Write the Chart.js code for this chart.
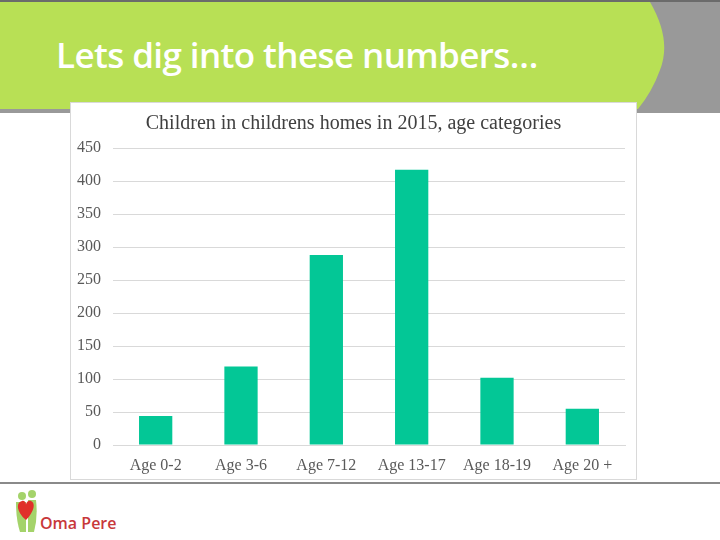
<!DOCTYPE html>
<html>
<head>
  <title>Lets dig into these numbers</title>
  <script src="https://cdn.jsdelivr.net/npm/chart.js"></script>
  <style>
    html, body { margin: 0; padding: 0; }
    body { width: 720px; height: 540px; position: relative; overflow: hidden; background: #fff; }
    #bg { position: absolute; left: 0; top: 0; }
    #slide-title {
      position: absolute; left: 56px; top: 31px;
      font-family: "Open Sans", Lato, sans-serif; font-weight: 600;
      font-size: 35px; color: #fff; letter-spacing: -0.6px;
    }
    #chart-box {
      position: absolute; left: 70px; top: 102px; width: 567px; height: 378px;
      background: #fff; box-sizing: border-box; border: 1px solid #d9d9d9;
    }
    #logo-text {
      position: absolute; left: 40px; top: 512px;
      font-family: "Open Sans", sans-serif; font-weight: 600; font-size: 16px; color: #c8383a;
    }
  </style>
</head>
<body>
  <svg id="bg" width="720" height="540">
    <rect x="0" y="0" width="720" height="113" fill="#999999"/>
    <path d="M0,2 L650,2 Q672,40 660,70 Q652,92 638,109 L0,109 Z" fill="#b8e055"/>
    <rect x="0" y="0" width="720" height="2" fill="#6b6b6b"/>
    <rect x="0" y="482" width="720" height="2" fill="#8a8a8a"/>
    <!-- logo figures -->
    <circle cx="22" cy="496" r="4" fill="#a4d36a"/>
    <circle cx="32" cy="494" r="4" fill="#a4d36a"/>
    <path d="M16,502 L26,502 L26,532 L20,532 Q16,520 16,502 Z" fill="#a4d36a"/>
    <path d="M28,500 L36,500 Q38,518 34,532 L28,532 Z" fill="#a4d36a"/>
    <path d="M26,520 C16,512 16,502 22,501 C25,500 26,503 26,505 C26,503 28,500 31,501 C36,503 34,512 26,520 Z" fill="#e0302a"/>
  </svg>
  <div id="slide-title">Lets dig into these numbers…</div>
  <div id="chart-box"><canvas id="myChart" width="565" height="376"></canvas></div>
  <div id="logo-text">Oma Pere</div>
  <script>
    const categories = ['Age 0-2', 'Age 3-6', 'Age 7-12', 'Age 13-17', 'Age 18-19', 'Age 20 +'];
    const children = [44, 119, 288, 417, 102, 55];
    const yMax = 450;
    const yStep = 50;

    const serif = '"Liberation Serif", "Times New Roman", serif';
    const ctx = document.getElementById('myChart').getContext('2d');
    new Chart(ctx, {
      type: 'bar',
      data: {
        labels: categories,
        datasets: [{
          label: 'Children',
          data: children,
          backgroundColor: '#03c796',
          barPercentage: 0.39,
          categoryPercentage: 1
        }]
      },
      options: {
        responsive: false,
        animation: false,
        layout: { padding: 0 },
        scales: {
          x: {
            grid: { display: false, drawTicks: false },
            border: { color: '#d9d9d9' },
            ticks: { color: '#595959', font: { family: serif, size: 16 }, padding: 11 },
            afterFit: (scale) => { scale.height = 34; }
          },
          y: {
            min: 0,
            max: yMax,
            ticks: { stepSize: yStep, color: '#595959', font: { family: serif, size: 16 }, padding: 12 },
            grid: { color: '#d9d9d9', drawTicks: false },
            border: { display: false },
            afterFit: (scale) => { scale.width = 42; }
          },
          // empty right gutter so the title stays centred on the whole box
          gutter: {
            position: 'right',
            grid: { display: false, drawTicks: false },
            border: { display: false },
            ticks: { display: false },
            afterFit: (scale) => { scale.width = 11; }
          }
        },
        plugins: {
          legend: { display: false },
          tooltip: { enabled: false },
          title: {
            display: true,
            text: 'Children in childrens homes in 2015, age categories',
            color: '#404040',
            font: { family: serif, size: 20, weight: 'normal' },
            padding: { top: 9, bottom: 12 }
          }
        }
      }
    });
  </script>
</body>
</html>
